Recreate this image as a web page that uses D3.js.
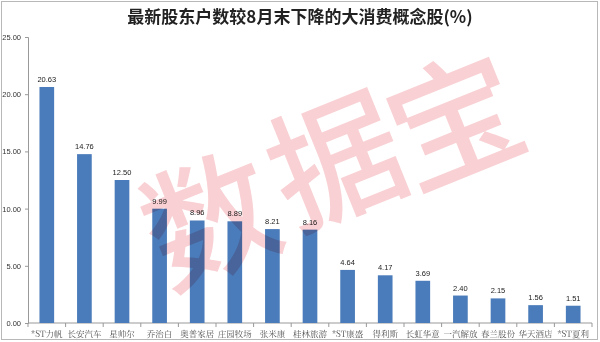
<!DOCTYPE html>
<html>
<head>
<meta charset="utf-8">
<script src="https://cdn.jsdelivr.net/npm/d3@7"></script>
<style>
  body { margin: 0; background: #fff; }
  svg { display: block; }
</style>
</head>
<body>
<svg width="600" height="342"></svg>
<script>
// data
const names = ["*ST力帆", "长安汽车", "星帅尔", "乔治白", "奥普家居", "庄园牧场", "张米康", "桂林旅游",
  "*ST康盛", "得利斯", "长虹华意", "一汽解放", "春兰股份", "华天酒店", "*ST夏利"];
const values = [20.63, 14.76, 12.50, 9.99, 8.96, 8.89, 8.21, 8.16, 4.64, 4.17, 3.69, 2.40, 2.15, 1.56, 1.51];
const yTicks = [0, 5, 10, 15, 20, 25];
const title = "最新股东户数较8月末下降的大消费概念股(%)";
const watermark = ["数", "据", "宝"];

window.onload = () => {
  const svg = d3.select("svg");
  const width = +svg.attr("width");
  const height = +svg.attr("height");
  const margin = { top: 37, right: 8, bottom: 19, left: 28 };
  const innerWidth = width - margin.left - margin.right;
  const innerHeight = height - margin.top - margin.bottom;

  // frame
  svg.append("rect")
    .attr("x", 1.5).attr("y", 1.5)
    .attr("width", width - 4).attr("height", height - 4)
    .attr("fill", "none").attr("stroke", "#b8b8b8");

  svg.append("text")
    .attr("x", 300).attr("y", 23)
    .attr("text-anchor", "middle")
    .attr("font-family", "'Noto Sans CJK SC', sans-serif")
    .attr("font-weight", "bold")
    .attr("font-size", 17)
    .attr("fill", "#222")
    .text(title);

  const xScale = d3.scaleBand().domain(names).range([0, innerWidth]).paddingInner(0.61).paddingOuter(0.305);
  const yScale = d3.scaleLinear().domain([0, 25]).range([innerHeight, 0]);

  const g = svg.append("g").attr("transform", `translate(${margin.left},${margin.top})`);

  // y axis
  const yAxisG = g.append("g")
    .call(d3.axisLeft(yScale).tickValues(yTicks).tickFormat(d3.format(".2f")).tickSize(3).tickPadding(4));
  yAxisG.select(".domain").attr("stroke", "#999");
  yAxisG.selectAll(".tick line").attr("stroke", "#999");
  yAxisG.selectAll("text").attr("font-family", "Arial, 'Liberation Sans', sans-serif")
    .attr("font-size", 7.5).attr("fill", "#333");

  // x axis: ticks between categories
  const xAxisG = g.append("g").attr("transform", `translate(0,${innerHeight})`);
  xAxisG.append("line").attr("x1", 0).attr("x2", innerWidth).attr("stroke", "#999");
  const step = xScale.step();
  xAxisG.selectAll(".sep").data(d3.range(names.length + 1)).enter().append("line")
    .attr("x1", d => d * step).attr("x2", d => d * step)
    .attr("y1", 0).attr("y2", 4).attr("stroke", "#999");
  xAxisG.selectAll(".lbl").data(names).enter().append("text")
    .attr("x", d => xScale(d) + xScale.bandwidth() / 2)
    .attr("y", 14)
    .attr("text-anchor", "middle")
    .attr("font-family", "'Noto Serif CJK SC', 'Noto Sans CJK SC', serif")
    .attr("font-size", 8.5)
    .attr("fill", "#555")
    .text(d => d);

  const data = names.map((n, i) => ({ name: n, value: values[i] }));

  g.selectAll(".bar").data(data).enter().append("rect")
    .attr("x", d => xScale(d.name))
    .attr("y", d => yScale(d.value))
    .attr("width", xScale.bandwidth())
    .attr("height", d => innerHeight - yScale(d.value))
    .attr("fill", "#4a7bba");

  g.selectAll(".val").data(data).enter().append("text")
    .attr("x", d => xScale(d.name) + xScale.bandwidth() / 2)
    .attr("y", d => yScale(d.value) - 5)
    .attr("text-anchor", "middle")
    .attr("font-family", "Arial, 'Liberation Sans', sans-serif")
    .attr("font-size", 7.5)
    .attr("fill", "#222")
    .text(d => d3.format(".2f")(d.value));

  // watermark, one glyph at a time along a slanted line
  const wmPos = [[207, 212], [333, 153], [452, 113]];
  svg.append("g").style("mix-blend-mode", "multiply")
    .selectAll("text").data(watermark).enter().append("text")
    .attr("transform", (d, i) => `translate(${wmPos[i][0]},${wmPos[i][1]}) rotate(-22)`)
    .attr("text-anchor", "middle")
    .attr("dominant-baseline", "central")
    .attr("font-family", "'Noto Sans CJK SC', sans-serif")
    .attr("font-weight", 500)
    .attr("font-size", 132)
    .attr("fill", "#f6bcc1")
    .attr("opacity", 0.7)
    .style("mix-blend-mode", "multiply")
    .text(d => d);
};
</script>
</body>
</html>
